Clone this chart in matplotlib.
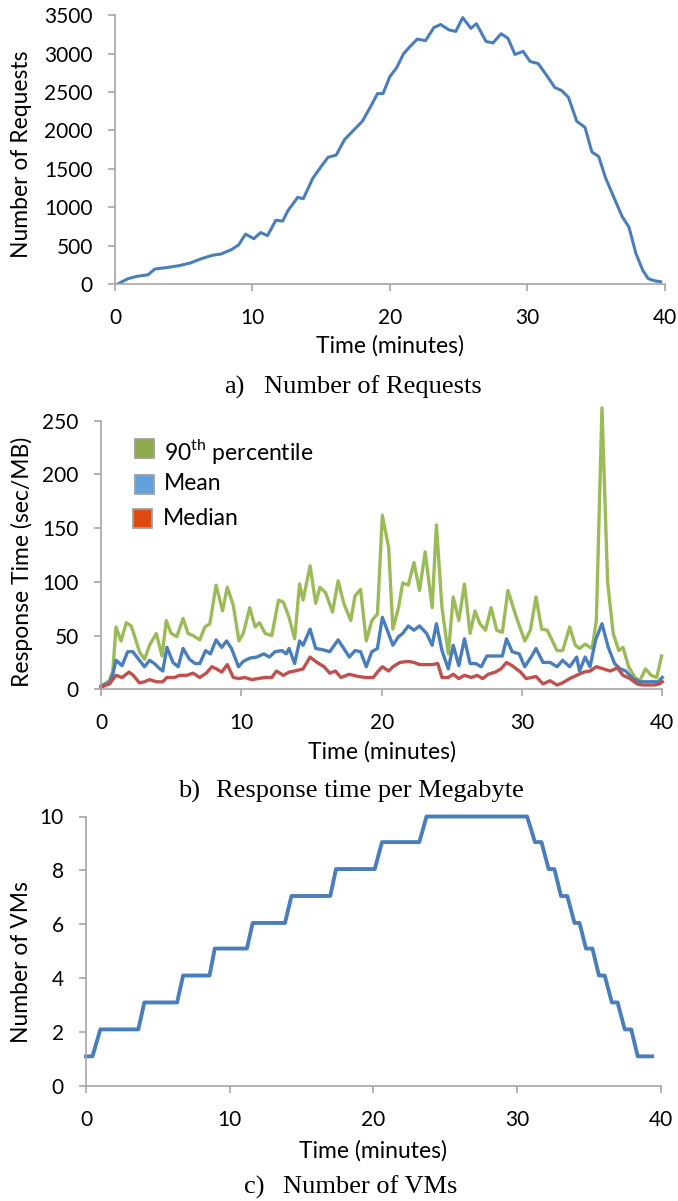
import matplotlib
matplotlib.use("Agg")
import matplotlib.pyplot as plt
from matplotlib.patches import Rectangle

plt.rcParams['font.family'] = ['Lato', 'DejaVu Sans']
plt.rcParams['mathtext.fontset'] = 'custom'
plt.rcParams['mathtext.rm'] = 'Lato'

# ---- a) number of requests over time ----
req_time = [0.2, 0.95, 1.6, 2.4, 2.9, 3.8, 4.7, 5.5, 6.3, 7.1,
            7.7, 8.5, 9.0, 9.5, 10.1, 10.6, 11.1, 11.7, 12.2, 12.6,
            13.3, 13.7, 14.4, 15.0, 15.5, 16.1, 16.7, 17.4, 18.0, 18.6,
            19.1, 19.5, 20.0, 20.5, 21.0, 21.5, 22.0, 22.6, 23.2, 23.7,
            24.3, 24.8, 25.3, 25.9, 26.3, 27.0, 27.5, 28.1, 28.6, 29.1,
            29.7, 30.2, 30.8, 31.4, 32.0, 32.5, 33.0, 33.6, 34.2, 34.7,
            35.2, 35.7, 36.3, 36.9, 37.4, 37.9, 38.4, 38.8, 39.3, 39.7]
requests = [0, 70, 100, 120, 195, 215, 240, 275, 330, 375,
            390, 450, 510, 650, 590, 670, 630, 830, 820, 960,
            1130, 1110, 1380, 1530, 1650, 1680, 1880, 2010, 2120, 2310,
            2480, 2480, 2700, 2820, 3000, 3100, 3190, 3170, 3340, 3380,
            3310, 3290, 3470, 3330, 3390, 3160, 3140, 3260, 3200, 2990,
            3030, 2900, 2870, 2720, 2560, 2520, 2430, 2120, 2040, 1720,
            1660, 1380, 1130, 880, 740, 400, 180, 70, 40, 30]

# ---- b) response time per megabyte ----
p90_time = [0, 0.6, 0.84, 1.07, 1.43, 1.8, 2.15, 2.5, 2.74, 3.1,
            3.46, 3.94, 4.35, 4.65, 5.0, 5.4, 5.85, 6.2, 6.56, 7.04,
            7.4, 7.76, 8.2, 8.66, 9.0, 9.43, 9.83, 10.14, 10.6, 10.98,
            11.3, 11.7, 12.17, 12.65, 13.0, 13.4, 13.8, 14.15, 14.4, 14.9,
            15.3, 15.6, 16.0, 16.5, 16.9, 17.3, 17.8, 18.1, 18.5, 18.9,
            19.3, 19.7, 20.05, 20.5, 20.8, 21.2, 21.5, 21.9, 22.3, 22.7,
            23.1, 23.6, 23.9, 24.3, 24.75, 25.1, 25.5, 25.9, 26.3, 26.65,
            27.0, 27.4, 27.8, 28.2, 28.6, 29.0, 29.6, 30.2, 30.6, 31.0,
            31.4, 31.8, 32.5, 32.9, 33.4, 33.8, 34.1, 34.5, 35.0, 35.3,
            35.7, 36.1, 36.5, 36.9, 37.2, 37.6, 38.05, 38.4, 38.8, 39.2,
            39.6, 39.95]
p90 = [3, 8, 17, 58, 45, 62, 59, 45, 35, 28,
       41, 52, 31, 64, 52, 49, 66, 52, 50, 46,
       58, 61, 97, 73, 95, 78, 45, 52, 76, 58,
       62, 52, 50, 83, 81, 67, 47, 98, 83, 115,
       80, 95, 90, 72, 101, 80, 64, 87, 93, 45,
       64, 70, 162, 132, 56, 76, 99, 97, 118, 92,
       128, 76, 153, 76, 33, 86, 64, 98, 52, 73,
       61, 55, 76, 55, 53, 92, 67, 45, 55, 86,
       56, 55, 36, 36, 58, 41, 38, 42, 38, 64,
       262, 100, 52, 36, 39, 21, 11, 8, 19, 13,
       11, 31]

mean_time = [0, 0.6, 0.84, 1.07, 1.5, 1.9, 2.27, 2.74, 3.1, 3.46,
             3.8, 4.2, 4.4, 4.7, 5.13, 5.5, 5.85, 6.3, 6.7, 7.04,
             7.45, 7.8, 8.2, 8.6, 8.95, 9.3, 9.8, 10.14, 10.6, 11.1,
             11.6, 12.0, 12.4, 12.9, 13.2, 13.4, 13.8, 14.15, 14.4, 14.9,
             15.3, 15.75, 16.3, 16.9, 17.3, 17.7, 18.1, 18.5, 18.9, 19.3,
             19.7, 20.05, 20.4, 20.8, 21.2, 21.5, 21.9, 22.3, 22.7, 23.2,
             23.6, 23.9, 24.3, 24.75, 25.1, 25.5, 25.9, 26.3, 26.7, 27.1,
             27.5, 28.0, 28.6, 28.9, 29.3, 29.8, 30.2, 30.7, 31.0, 31.5,
             32.0, 32.5, 32.9, 33.4, 33.9, 34.1, 34.5, 34.85, 35.25, 35.7,
             36.15, 36.6, 37.0, 37.4, 37.9, 38.4, 38.9, 39.4, 39.7, 40.0]
mean = [3, 6, 14, 27, 22, 35, 35, 27, 21, 27,
        24, 19, 17, 39, 25, 21, 38, 28, 24, 24,
        36, 33, 46, 39, 45, 38, 21, 26, 29, 30,
        33, 30, 35, 36, 33, 38, 24, 45, 41, 56,
        38, 37, 35, 46, 38, 30, 36, 35, 21, 35,
        38, 67, 55, 41, 49, 52, 59, 55, 59, 52,
        41, 61, 36, 19, 41, 22, 47, 24, 24, 21,
        31, 31, 31, 47, 35, 33, 21, 31, 38, 25,
        25, 21, 27, 21, 30, 17, 30, 21, 46, 61,
        39, 24, 19, 17, 10, 7, 7, 7, 7, 11]

median_time = [0, 0.6, 1.07, 1.5, 2.0, 2.3, 2.74, 3.1, 3.46, 3.94,
               4.4, 4.7, 5.25, 5.6, 6.1, 6.56, 7.04, 7.5, 7.9, 8.23,
               8.6, 9.0, 9.43, 9.83, 10.26, 10.74, 11.2, 11.7, 12.17, 12.5,
               13.0, 13.4, 13.8, 14.4, 14.9, 15.4, 15.9, 16.3, 16.7, 17.1,
               17.7, 18.3, 18.85, 19.4, 19.7, 20.05, 20.5, 20.8, 21.3, 21.9,
               22.3, 22.7, 23.6, 24.0, 24.3, 24.75, 25.1, 25.5, 25.9, 26.4,
               26.8, 27.2, 27.6, 28.1, 28.5, 28.9, 29.3, 29.9, 30.3, 30.7,
               31.0, 31.5, 32.0, 32.5, 32.9, 33.4, 33.9, 34.4, 34.85, 35.3,
               35.8, 36.3, 36.8, 37.2, 37.7, 38.2, 38.6, 39.4, 39.8, 40.0]
median = [2, 5, 13, 11, 16, 13, 6, 7, 9, 7,
          7, 11, 11, 13, 13, 15, 11, 15, 21, 19,
          16, 23, 11, 10, 11, 9, 10, 11, 11, 17,
          13, 16, 17, 19, 30, 25, 21, 15, 17, 11,
          14, 12, 11, 11, 16, 21, 17, 21, 25, 26,
          25, 23, 23, 24, 11, 11, 14, 10, 13, 11,
          13, 10, 14, 16, 19, 25, 22, 16, 10, 11,
          12, 5, 8, 4, 6, 10, 13, 16, 17, 21,
          19, 17, 20, 13, 10, 5, 4, 4, 5, 7]

# ---- c) number of VMs (corner points of the step profile) ----
vm_time = [0, 0.45, 1.0, 3.64, 4.06, 6.34, 6.76, 8.6, 8.96, 11.2,
           11.6, 13.85, 14.3, 17.0, 17.4, 20.1, 20.6, 23.2, 23.7, 30.7,
           31.25, 31.7, 32.2, 32.6, 33.06, 33.5, 34.0, 34.35, 34.8, 35.25,
           35.7, 36.1, 36.6, 37.0, 37.5, 37.95, 38.4, 39.4]
vms = [1.1, 1.1, 2.1, 2.1, 3.1, 3.1, 4.1, 4.1, 5.1, 5.1,
       6.05, 6.05, 7.05, 7.05, 8.05, 8.05, 9.05, 9.05, 10, 10,
       9.05, 9.05, 8.05, 8.05, 7.05, 7.05, 6.05, 6.05, 5.1, 5.1,
       4.1, 4.1, 3.1, 3.1, 2.1, 2.1, 1.1, 1.1]

x_ticks = [0, 10, 20, 30, 40]
series_labels = ["90$^{\\mathrm{th}}$ percentile", "Mean", "Median"]
legend_colors = ['#8EAA4C', '#62A0DC', '#DE4A10']

W, H = 678, 1201
fig = plt.figure(figsize=(W / 100, H / 100), dpi=100)

AXIS_GREY = '#A6A6A6'
LINE_BLUE = '#4A7EBB'
LINE_GREEN = '#9BBB59'
LINE_RED = '#C0504D'


def px_rect(left, top, right, bottom):
    return [left / W, 1 - bottom / H, (right - left) / W, (bottom - top) / H]


def fig_text(x, y, s, **kw):
    fig.text(x / W, 1 - y / H, s, **kw)


def style_axes(ax, yticks, ylim):
    for side in ('top', 'right'):
        ax.spines[side].set_visible(False)
    for side in ('left', 'bottom'):
        ax.spines[side].set_color(AXIS_GREY)
        ax.spines[side].set_linewidth(1.2)
    ax.set_xlim(0, 40)
    ax.set_ylim(*ylim)
    ax.set_xticks(x_ticks)
    ax.set_yticks(yticks)
    ax.tick_params(direction='out', length=5, width=1.2, color=AXIS_GREY,
                   labelsize=15, labelcolor='black')
    ax.tick_params(axis='y', pad=11)
    ax.tick_params(axis='x', pad=12)


def caption(y, tag, title, x_tag, x_title):
    fig_text(x_tag, y, tag, family='Liberation Serif', fontsize=19,
             ha='left', va='center')
    fig_text(x_title, y, title, family='Liberation Serif', fontsize=19,
             ha='left', va='center')


LABEL_SIZE = 16.5

# a) requests
ax_a = fig.add_axes(px_rect(115, 15.3, 664.7, 284))
ax_a.plot(req_time, requests, color=LINE_BLUE, lw=2.2, solid_joinstyle='round')
style_axes(ax_a, range(0, 3501, 500), (0, 3500))
fig_text(22, 154, "Number of Requests", rotation=90, ha='center', va='center', fontsize=LABEL_SIZE)
fig_text(390, 346, "Time (minutes)", ha='center', va='center', fontsize=LABEL_SIZE)
caption(387, "a)", "Number of Requests", 224.5, 263.5)

# b) response time
ax_b = fig.add_axes(px_rect(101, 420.7, 662.3, 689.3))
ax_b.plot(p90_time, p90, color=LINE_GREEN, lw=2.4, clip_on=False, solid_joinstyle='round')
ax_b.plot(mean_time, mean, color=LINE_BLUE, lw=2.4, clip_on=False, solid_joinstyle='round')
ax_b.plot(median_time, median, color=LINE_RED, lw=2.4, clip_on=False, solid_joinstyle='round')
style_axes(ax_b, range(0, 251, 50), (0, 250))

# legend keys: square swatches with a grey rim, label to the right
legend_rows = [(135, 439, 451.7, 164), (135, 475, 483.5, 164), (133, 509, 518.5, 163)]
for (sx, sy, ty, tx), col, lab in zip(legend_rows, legend_colors, series_labels):
    fig.add_artist(Rectangle((sx / W, 1 - (sy + 19) / H), 18.5 / W, 19 / H,
                             transform=fig.transFigure, facecolor=col,
                             edgecolor='#A0A0A0', linewidth=1.3))
    fig_text(tx, ty, lab, ha='left', va='center', fontsize=16.5)

fig_text(22, 562, "Response Time (sec/MB)", rotation=90, ha='center', va='center', fontsize=LABEL_SIZE)
fig_text(382, 752, "Time (minutes)", ha='center', va='center', fontsize=LABEL_SIZE)
caption(791, "b)", "Response time per Megabyte", 178.3, 216.3)

# c) VMs
ax_c = fig.add_axes(px_rect(86, 816.5, 660.7, 1086))
ax_c.plot(vm_time, vms, color=LINE_BLUE, lw=2.8, clip_on=False, solid_joinstyle='round')
style_axes(ax_c, range(0, 11, 2), (0, 10))
fig_text(22, 962, "Number of VMs", rotation=90, ha='center', va='center', fontsize=LABEL_SIZE)
fig_text(373, 1151, "Time (minutes)", ha='center', va='center', fontsize=LABEL_SIZE)
caption(1187, "c)", "Number of VMs", 244.4, 283.3)

fig.savefig("out.png", dpi=100, facecolor='white')
